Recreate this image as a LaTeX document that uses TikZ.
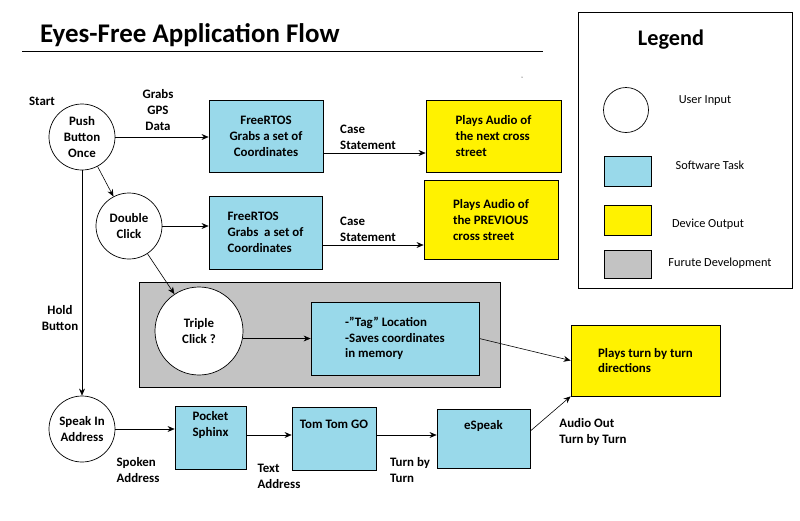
\documentclass[tikz,border=0pt]{standalone}
\usepackage{fontspec}
\setmainfont{Carlito}
\usetikzlibrary{arrows.meta}
\definecolor{swc}{RGB}{153,217,234}
\definecolor{outc}{RGB}{255,242,0}
\definecolor{futc}{RGB}{195,195,195}
\begin{document}
\begin{tikzpicture}[x=0.03cm,y=-0.03cm,
  every node/.style={font=\fontsize{10.5}{13}\selectfont,align=center,inner sep=0pt},
  uin/.style={draw,circle,fill=white,line width=0.6pt},
  swt/.style={draw,fill=swc,line width=0.6pt},
  dout/.style={draw,fill=outc,line width=0.6pt},
  fdev/.style={draw,fill=futc,line width=0.6pt},
  arr/.style={-{Stealth[length=6pt,width=5pt]},line width=0.5pt},
  lbl/.style={font=\fontsize{11}{13.5}\selectfont\bfseries}]
\useasboundingbox (0,0) rectangle (800,520);
% title
\node[font=\fontsize{23}{27}\selectfont\bfseries,anchor=west] (title) at (40,35) {Eyes-Free Application Flow};
\draw[line width=0.6pt] (22,51) -- (543,51);
\fill (522,77) circle (0.5);
% legend
\draw[line width=0.6pt] (578,12) rectangle (792,288);
\node[font=\fontsize{19}{22}\selectfont\bfseries] (leg) at (671,40) {Legend};
\node[uin,minimum size=1.35cm] (lc) at (626,110) {};
\node (lt1) at (705,101) {User Input};
\draw[swt] (604,156) rectangle (651,186);
\node (lt2) at (710,165) {Software Task};
\draw[dout] (604,205) rectangle (651,235);
\node (lt3) at (708,224) {Device Output};
\draw[fdev] (604,250) rectangle (651,278);
\node (lt4) at (720,263) {Furute Development};
% gray future box
\draw[fdev] (139,282) rectangle (500,387);
% row 1
\node[lbl] (start) at (42,101) {Start};
\node[uin,minimum size=1.98cm,lbl] (push) at (82,137) {Push\\Button\\Once};
\node[lbl] (grabs) at (158,110) {Grabs\\GPS\\Data};
\node[swt,minimum width=3.42cm,minimum height=2.16cm,lbl] (b1) at (266,136) {FreeRTOS\\Grabs a set of\\Coordinates};
\node[lbl,anchor=west,align=left] (case1) at (340,137) {Case\\Statement};
\node[dout,minimum width=4.05cm,minimum height=2.16cm,lbl,align=left] (y1) at (493.5,136) {Plays Audio of\\the next cross\\street};
\draw[arr] (push) -- (b1.west|-push);
\draw[arr] (b1.east|-case1) ++(0,16) coordinate (c1) -- (y1.west|-c1);
% row 2
\node[uin,minimum size=1.98cm,lbl] (dbl) at (129,226) {Double\\Click};
\node[swt,minimum width=3.39cm,minimum height=2.19cm,lbl,align=left] (b2) at (265.5,232.5) {FreeRTOS\\Grabs\ \ a set of\\Coordinates};
\node[lbl,anchor=west,align=left] (case2) at (340,229) {Case\\Statement};
\node[dout,minimum width=4.02cm,minimum height=2.37cm,lbl,align=left] (y2) at (491,220) {Plays Audio of\\the PREVIOUS\\cross street};
\draw[arr] (push) -- (dbl);
\draw[arr] (dbl) -- (b2.west|-dbl);
\draw[arr] (b2.east|-case2) ++(0,16) coordinate (c2) -- (y2.west|-c2);
% row 3
\node[uin,minimum size=2.64cm,lbl] (tri) at (199,331) {Triple\\Click ?};
\node[swt,minimum width=5.04cm,minimum height=2.19cm,lbl,align=left] (b3) at (395,338.5) {-"Tag" Location\\-Saves coordinates\\in memory};
\node[dout,minimum width=4.47cm,minimum height=2.13cm,lbl,align=left] (y3) at (645.5,360.5) {Plays turn by turn\\directions\hspace*{1.2cm}};
\draw[arr] (dbl) -- (tri);
\draw[arr] (tri.east|-b3) -- (b3.west);
\draw[arr] (b3.east) -- (y3.west);
% row 4
\node[lbl] (hold) at (60,318) {Hold\\Button};
\node[uin,minimum size=1.98cm,lbl] (speak) at (82,429) {Speak In\\Address};
\draw[arr] (push) -- (speak);
\node[swt,minimum width=2.13cm,minimum height=1.89cm,lbl,anchor=north] (ps) at (210.5,406) {\rule{0pt}{10pt}Pocket\\Sphinx\\[12pt]};
\node[swt,minimum width=2.52cm,minimum height=1.86cm,lbl,anchor=north] (tt) at (334,407) {\rule{0pt}{18pt}Tom Tom GO\\[22pt]};
\node[swt,minimum width=2.79cm,minimum height=1.71cm,lbl,anchor=north] (es) at (483.5,409) {\rule{0pt}{17pt}eSpeak\\[20pt]};
\node[lbl,align=left] (spk) at (138,470) {Spoken\\Address};
\node[lbl,align=left] (txt) at (279,476) {Text\\Address};
\node[lbl,align=left] (tbt) at (410,470) {Turn by\\Turn};
\node[lbl,align=left] (ao) at (593,432) {Audio Out\\Turn by Turn};
\draw[arr] (speak) -- (ps.west|-speak);
\draw[arr] (ps.east|-tt.north) ++(0,28) coordinate (c4) -- (tt.west|-c4);
\draw[arr] (tt.east|-es.north) ++(0,26) coordinate (c5) -- (es.west|-c5);
\draw[arr] (es.east|-es.north) ++(0,22) coordinate (c6) -- (y3.south west);
\end{tikzpicture}
\end{document}
